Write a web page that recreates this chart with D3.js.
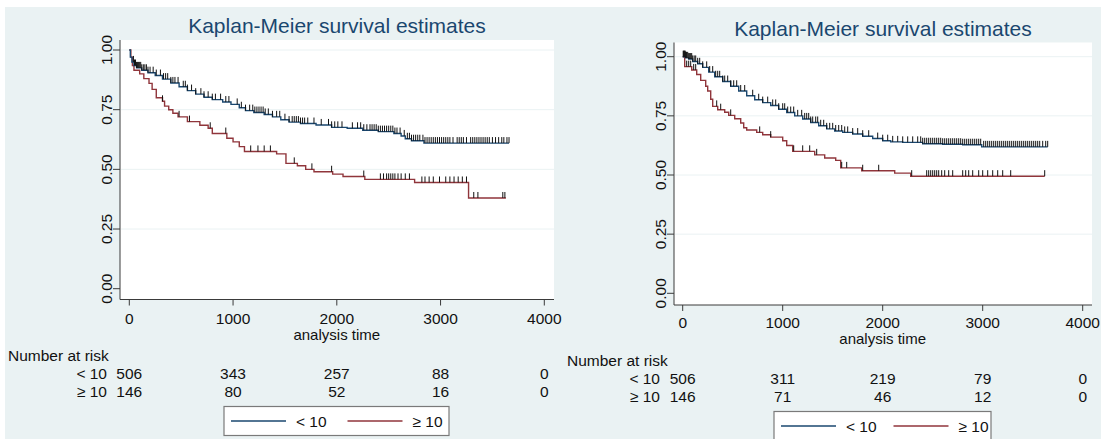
<!doctype html>
<html lang="en">
<head>
    <meta charset="UTF-8">
    <title>Kaplan-Meier survival estimates</title>
    <script src="https://cdn.jsdelivr.net/npm/d3@7"></script>
    <style>
        body{
            margin:0;
            background:#ffffff;
            font-family:"Liberation Sans", Arial, sans-serif;
        }
        .backScene{ fill:#eaf2f3; }
        .plotRegion{ fill:#ffffff; }
        .grid{ stroke:#eaf2f3; stroke-width:1px; }
        .axisLine{ stroke:#3a3a3a; stroke-width:1px; fill:none; }
        .title{ fill:#1a476f; font-size:21px; }
        .tickLabel{ fill:#111; font-size:15.5px; }
        .axisTitle{ fill:#111; font-size:15px; }
        .riskText{ fill:#111; font-size:15.5px; }
        .censor{ stroke:#111; stroke-width:1px; }
        .legendBox{ fill:#ffffff; stroke:#7a7a7a; stroke-width:1.2px; }
    </style>
</head>
<body>
<svg width="1101" height="439"></svg>
<script>
    // ---- data ----
    const timeTicks = [0, 1000, 2000, 3000, 4000];
    const survTicks = [0, 0.25, 0.5, 0.75, 1];
    const survTickLabels = ["0.00", "0.25", "0.50", "0.75", "1.00"];
    const groups = ["< 10", "\u2265 10"];
    const colors = ["#1a476f", "#90353b"];

    // step points [time, survival] for each curve
    const leftLow = [[0,1],[10,0.97],[25,0.95],[45,0.935],[70,0.925],[120,0.915],[180,0.905],[250,0.893],
        [320,0.878],[400,0.862],[480,0.846],[560,0.83],[640,0.815],[720,0.802],[800,0.792],[900,0.782],
        [980,0.772],[1060,0.758],[1120,0.746],[1200,0.738],[1300,0.73],[1380,0.72],[1460,0.708],[1540,0.698],
        [1650,0.692],[1800,0.686],[1950,0.676],[2100,0.672],[2250,0.664],[2400,0.658],[2550,0.65],[2620,0.64],
        [2660,0.628],[2720,0.62],[2840,0.61],[3660,0.61]];
    const leftHigh = [[0,1],[15,0.97],[30,0.935],[45,0.915],[100,0.9],[140,0.88],[190,0.86],[220,0.835],
        [260,0.8],[320,0.785],[340,0.765],[380,0.75],[420,0.735],[470,0.72],[560,0.7],[680,0.685],[760,0.672],
        [800,0.65],[940,0.63],[1000,0.615],[1060,0.595],[1110,0.575],[1420,0.565],[1510,0.525],[1620,0.515],
        [1700,0.5],[1780,0.49],[1960,0.48],[2060,0.47],[2270,0.458],[2750,0.445],[3270,0.38],[3630,0.38]];
    const rightLow = [[0,1],[30,0.995],[60,0.99],[100,0.98],[150,0.97],[200,0.955],[260,0.935],[320,0.915],
        [400,0.895],[480,0.875],[560,0.855],[640,0.835],[720,0.818],[800,0.806],[880,0.794],[960,0.778],
        [1040,0.764],[1120,0.75],[1200,0.737],[1280,0.722],[1360,0.708],[1440,0.695],[1520,0.686],[1600,0.68],
        [1700,0.673],[1800,0.664],[1900,0.654],[2000,0.645],[2080,0.64],[2200,0.638],[2400,0.632],[2600,0.63],
        [2800,0.628],[2990,0.619],[3650,0.619]];
    const rightHigh = [[0,1],[20,0.958],[90,0.944],[140,0.925],[180,0.9],[230,0.875],[250,0.855],[280,0.82],
        [300,0.79],[350,0.776],[420,0.765],[460,0.752],[520,0.738],[580,0.72],[610,0.7],[640,0.69],[740,0.68],
        [800,0.67],[880,0.66],[1000,0.645],[1040,0.625],[1100,0.6],[1320,0.585],[1420,0.572],[1530,0.562],
        [1580,0.53],[1790,0.518],[2120,0.508],[2280,0.495],[3620,0.495]];

    // censoring times
    const leftLowCens = [40,50,60,70,80,90,100,110,120,135,150,165,180,200,230,260,300,330,350,370,400,420,440,470,
        520,540,560,600,640,690,720,760,800,830,880,930,960,1040,1080,1120,1160,1190,1210,1230,1250,1270,1290,1310,
        1340,1380,1420,1450,1500,1540,1570,1590,1610,1630,1650,1670,1690,1720,1780,1850,1920,1950,1980,2010,2050,
        2150,2200,2230,2260,2290,2320,2340,2360,2380,2400,2420,2440,2460,2480,2500,2520,2540,2560,2580,2610,2650,
        2680,2700,2720,2740,2760,2780,2800,2830,2850,2870,2890,2910,2930,2950,2970,2990,3010,3030,3050,3070,3090,
        3120,3160,3180,3200,3220,3250,3290,3310,3330,3350,3370,3390,3410,3430,3450,3470,3500,3530,3560,3590,3610,
        3640,3660];
    const leftHighCens = [320,480,580,780,930,1170,1240,1300,1360,1590,1760,1950,2260,2420,2450,2480,2500,2520,
        2540,2560,2590,2620,2660,2700,2820,2850,2890,2930,2990,3050,3090,3130,3170,3210,3250,3320,3360,3600,3620];
    const rightLowCens = [5,10,15,20,25,30,35,40,50,60,70,80,90,100,115,130,150,170,200,240,270,300,330,350,370,
        400,420,450,480,510,540,580,620,700,760,800,850,900,930,960,1000,1020,1050,1080,1110,1150,1190,1220,1240,
        1260,1280,1300,1330,1350,1380,1410,1440,1470,1500,1530,1560,1590,1620,1650,1700,1750,1800,1860,1950,2000,
        2050,2100,2150,2200,2250,2300,2350,2380,2400,2420,2440,2460,2480,2500,2520,2540,2560,2580,2600,2620,2640,
        2660,2680,2700,2720,2740,2760,2780,2800,2820,2840,2860,2880,2900,2920,2940,2960,2980,3010,3030,3050,3070,
        3090,3110,3130,3150,3170,3190,3210,3230,3250,3270,3290,3310,3330,3350,3370,3390,3410,3430,3450,3470,3490,
        3510,3530,3550,3570,3600,3630,3650];
    const rightHighCens = [40,60,80,110,130,340,380,480,770,880,1110,1200,1270,1340,1590,1640,1800,1960,2290,
        2440,2460,2480,2500,2520,2540,2560,2590,2620,2660,2700,2800,2830,2860,2900,2960,3000,3050,3100,3150,3200,
        3280,3620];

    // number at risk
    const leftRisk = [[506,343,257,88,0],[146,80,52,16,0]];
    const rightRisk = [[506,311,219,79,0],[146,71,46,12,0]];

    // ---- layout ----
    const panels = [
        {curves:[leftLow,leftHigh], cens:[leftLowCens,leftHighCens], risk:leftRisk,
         plotL:120, plotR:554, plotT:40, axisY:299.5, xr:[129.3,544.3], yr:[288.7,50],
         titleY:33, tickY:323.5, xTitleY:339.5, yLabX:112, riskX:8, riskY:[361,379,397], riskLabR:107,
         legend:{x:224, y:406.5, w:225, h:29}},
        {curves:[rightLow,rightHigh], cens:[rightLowCens,rightHighCens], risk:rightRisk,
         plotL:674, plotR:1092, plotT:42.5, axisY:305, xr:[682.7,1082.7], yr:[293.3,56.7],
         titleY:36, tickY:327.5, xTitleY:344, yLabX:666, riskX:567, riskY:[366,384,402], riskLabR:660,
         legend:{x:774, y:411.5, w:217, h:29}}
    ];

    let svg = d3.select("svg");
    svg.append("rect").attr("class","backScene")
        .attr("x",5).attr("y",7).attr("width",1096).attr("height",432);

    panels.forEach(p=>{
        let x = d3.scaleLinear().domain([0,4000]).range(p.xr);
        let y = d3.scaleLinear().domain([0,1]).range(p.yr);
        let g = svg.append("g");

        g.append("rect").attr("class","plotRegion")
            .attr("x",p.plotL).attr("y",p.plotT)
            .attr("width",p.plotR-p.plotL).attr("height",p.axisY-p.plotT);

        // grid
        g.selectAll(".grid").data(survTicks.filter(d=>d>0)).enter().append("line")
            .attr("class","grid")
            .attr("x1",p.plotL+1).attr("x2",p.plotR)
            .attr("y1",d=>y(d)).attr("y2",d=>y(d));

        // title
        g.append("text").attr("class","title")
            .attr("x",(p.plotL+p.plotR)/2).attr("y",p.titleY)
            .attr("text-anchor","middle")
            .text("Kaplan-Meier survival estimates");

        // axes lines
        g.append("line").attr("class","axisLine")
            .attr("x1",p.plotL).attr("x2",p.plotL).attr("y1",p.plotT).attr("y2",p.axisY);
        g.append("line").attr("class","axisLine")
            .attr("x1",p.plotL).attr("x2",p.plotR).attr("y1",p.axisY).attr("y2",p.axisY);

        // x ticks
        g.selectAll(".xt").data(timeTicks).enter().append("line")
            .attr("class","axisLine")
            .attr("x1",d=>x(d)).attr("x2",d=>x(d))
            .attr("y1",p.axisY).attr("y2",p.axisY+6);
        g.selectAll(".xl").data(timeTicks).enter().append("text")
            .attr("class","tickLabel")
            .attr("x",d=>x(d)).attr("y",p.tickY)
            .attr("text-anchor","middle")
            .text(d=>d);
        g.append("text").attr("class","axisTitle")
            .attr("x",x(2000)).attr("y",p.xTitleY)
            .attr("text-anchor","middle")
            .text("analysis time");

        // y ticks
        g.selectAll(".yt").data(survTicks).enter().append("line")
            .attr("class","axisLine")
            .attr("x1",p.plotL-7).attr("x2",p.plotL)
            .attr("y1",d=>y(d)).attr("y2",d=>y(d));
        g.selectAll(".yl").data(survTicks).enter().append("text")
            .attr("class","tickLabel")
            .attr("transform",d=>`translate(${p.yLabX},${y(d)}) rotate(-90)`)
            .attr("text-anchor","middle")
            .text((d,i)=>survTickLabels[i]);

        // curves
        let line = d3.line().x(d=>x(d[0])).y(d=>y(d[1])).curve(d3.curveStepAfter);
        [1,0].forEach(i=>{
            g.append("path")
                .attr("d",line(p.curves[i]))
                .attr("fill","none")
                .attr("stroke",colors[i])
                .attr("stroke-width",1.4);
        });

        // censor marks
        p.cens.forEach((times,i)=>{
            let steps = p.curves[i];
            let survAt = t=>{
                let s = 1;
                steps.forEach(d=>{ if(d[0]<=t) s=d[1]; });
                return s;
            };
            g.selectAll(null).data(times).enter().append("line")
                .attr("class","censor")
                .attr("x1",d=>x(d)).attr("x2",d=>x(d))
                .attr("y1",d=>y(survAt(d))).attr("y2",d=>y(survAt(d))-6);
        });

        // number at risk table
        g.append("text").attr("class","riskText")
            .attr("x",p.riskX).attr("y",p.riskY[0]).text("Number at risk");
        p.risk.forEach((row,i)=>{
            g.append("text").attr("class","riskText")
                .attr("x",p.riskLabR).attr("y",p.riskY[i+1])
                .attr("text-anchor","end").text(groups[i]);
            g.selectAll(null).data(row).enter().append("text")
                .attr("class","riskText")
                .attr("x",(d,j)=>x(timeTicks[j])).attr("y",p.riskY[i+1])
                .attr("text-anchor","middle")
                .text(d=>d);
        });

        // legend
        let L = p.legend;
        g.append("rect").attr("class","legendBox")
            .attr("x",L.x).attr("y",L.y).attr("width",L.w).attr("height",L.h);
        let half = L.w/2;
        groups.forEach((name,i)=>{
            let gx = L.x + 7 + i*(half+4);
            let midY = L.y + 14.5;
            g.append("line")
                .attr("x1",gx).attr("x2",gx+55)
                .attr("y1",midY).attr("y2",midY)
                .attr("stroke",colors[i]).attr("stroke-width",1.4);
            g.append("text").attr("class","riskText")
                .attr("x",gx+65).attr("y",midY+5.5)
                .text(name);
        });
    });
</script>
</body>
</html>
